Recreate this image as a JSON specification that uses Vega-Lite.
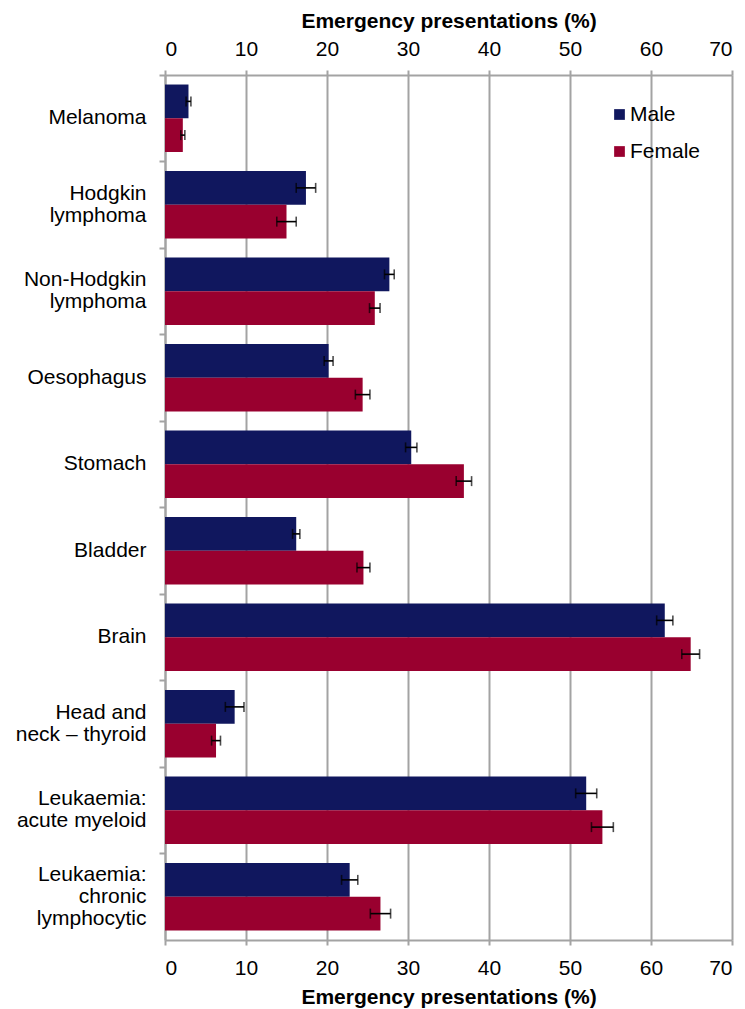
{
  "$schema": "https://vega.github.io/schema/vega-lite/v6.json",
  "autosize": {"type": "none"},
  "padding": {"left": 165, "top": 75, "right": 13, "bottom": 69},
  "width": 567,
  "height": 865,
  "background": "white",
  "config": {
    "view": {"stroke": null},
    "font": "Liberation Sans",
    "axis": {
      "labelFont": "Liberation Sans",
      "titleFont": "Liberation Sans",
      "labelColor": "#000000",
      "titleColor": "#000000",
      "labelFontSize": 21,
      "titleFontSize": 21,
      "titleFontWeight": "bold",
      "domainColor": "#A3A3A3",
      "domainWidth": 2,
      "tickColor": "#A3A3A3",
      "tickWidth": 2
    }
  },
  "data": {
    "values": [
      {"cancer": "Melanoma", "sex": "Male", "pct": 2.9, "lo": 2.6, "hi": 3.2},
      {"cancer": "Melanoma", "sex": "Female", "pct": 2.2, "lo": 1.95, "hi": 2.45},
      {"cancer": "Hodgkin|lymphoma", "sex": "Male", "pct": 17.4, "lo": 16.2, "hi": 18.6},
      {"cancer": "Hodgkin|lymphoma", "sex": "Female", "pct": 15.0, "lo": 13.8, "hi": 16.2},
      {"cancer": "Non-Hodgkin|lymphoma", "sex": "Male", "pct": 27.7, "lo": 27.1, "hi": 28.3},
      {"cancer": "Non-Hodgkin|lymphoma", "sex": "Female", "pct": 25.9, "lo": 25.25, "hi": 26.55},
      {"cancer": "Oesophagus", "sex": "Male", "pct": 20.2, "lo": 19.65, "hi": 20.75},
      {"cancer": "Oesophagus", "sex": "Female", "pct": 24.4, "lo": 23.5, "hi": 25.3},
      {"cancer": "Stomach", "sex": "Male", "pct": 30.4, "lo": 29.7, "hi": 31.1},
      {"cancer": "Stomach", "sex": "Female", "pct": 36.9, "lo": 35.95, "hi": 37.85},
      {"cancer": "Bladder", "sex": "Male", "pct": 16.2, "lo": 15.75, "hi": 16.65},
      {"cancer": "Bladder", "sex": "Female", "pct": 24.5, "lo": 23.7, "hi": 25.3},
      {"cancer": "Brain", "sex": "Male", "pct": 61.7, "lo": 60.7, "hi": 62.7},
      {"cancer": "Brain", "sex": "Female", "pct": 64.9, "lo": 63.8, "hi": 66.0},
      {"cancer": "Head and|neck – thyroid", "sex": "Male", "pct": 8.6, "lo": 7.45, "hi": 9.75},
      {"cancer": "Head and|neck – thyroid", "sex": "Female", "pct": 6.3, "lo": 5.75, "hi": 6.85},
      {"cancer": "Leukaemia:|acute myeloid", "sex": "Male", "pct": 52.0, "lo": 50.7, "hi": 53.3},
      {"cancer": "Leukaemia:|acute myeloid", "sex": "Female", "pct": 54.0, "lo": 52.65, "hi": 55.35},
      {"cancer": "Leukaemia:|chronic|lymphocytic", "sex": "Male", "pct": 22.8, "lo": 21.8, "hi": 23.8},
      {"cancer": "Leukaemia:|chronic|lymphocytic", "sex": "Female", "pct": 26.6, "lo": 25.35, "hi": 27.85}
    ]
  },
  "encoding": {
    "y": {
      "field": "cancer",
      "type": "nominal",
      "sort": null,
      "scale": {"paddingInner": 0.22, "paddingOuter": 0.11},
      "axis": {
        "title": null,
        "labelExpr": "split(datum.label, '|')",
        "labelAlign": "right",
        "labelBaseline": "middle",
        "labelLineHeight": 22,
        "labelOffset": {"expr": "-(length(split(datum.value, '|')) - 1) * 11"},
        "labelPadding": 13,
        "tickSize": 6,
        "bandPosition": -0.14,
        "tickExtra": false,
        "grid": false
      }
    },
    "yOffset": {"field": "sex", "type": "nominal", "sort": ["Male", "Female"], "scale": {"paddingInner": 0, "paddingOuter": 0}}
  },
  "layer": [
    {
      "mark": {"type": "bar", "strokeWidth": 0},
      "encoding": {
        "x": {
          "field": "pct",
          "type": "quantitative",
          "scale": {"domain": [0, 70], "nice": false, "zero": true},
          "axis": {
            "orient": "bottom",
            "title": "Emergency presentations (%)",
            "values": [0, 10, 20, 30, 40, 50, 60, 70],
            "tickSize": 5,
            "labelPadding": 12,
            "titlePadding": 8,
            "grid": true,
            "gridColor": "#A3A3A3",
            "gridWidth": 2
          }
        },
        "color": {
          "field": "sex",
          "type": "nominal",
          "sort": ["Male", "Female"],
          "scale": {"domain": ["Male", "Female"], "range": ["#10175E", "#99002F"]},
          "legend": {
            "title": null,
            "orient": "none",
            "legendX": 444,
            "legendY": 29,
            "padding": 0,
            "symbolType": "square",
            "symbolSize": 115,
            "symbolStrokeWidth": 0,
            "labelFont": "Liberation Sans",
            "labelFontSize": 21,
            "labelColor": "#000000",
            "labelOffset": 0,
            "rowPadding": 15
          }
        }
      }
    },
    {
      "mark": {"type": "rule", "color": "#000000", "strokeWidth": 1.6},
      "encoding": {
        "x": {
          "field": "lo",
          "type": "quantitative",
          "scale": {"domain": [0, 70], "nice": false},
          "axis": {
            "orient": "top",
            "title": "Emergency presentations (%)",
            "values": [0, 10, 20, 30, 40, 50, 60, 70],
            "tickSize": 5,
            "labelPadding": 11,
            "titlePadding": 7,
            "grid": false
          }
        },
        "x2": {"field": "hi"}
      }
    },
    {
      "mark": {"type": "tick", "color": "#000000", "thickness": 1.6, "size": 10},
      "encoding": {
        "x": {"field": "lo", "type": "quantitative", "axis": null}
      }
    },
    {
      "mark": {"type": "tick", "color": "#000000", "thickness": 1.6, "size": 10},
      "encoding": {
        "x": {"field": "hi", "type": "quantitative", "axis": null}
      }
    }
  ],
  "resolve": {"axis": {"x": "independent"}}
}
